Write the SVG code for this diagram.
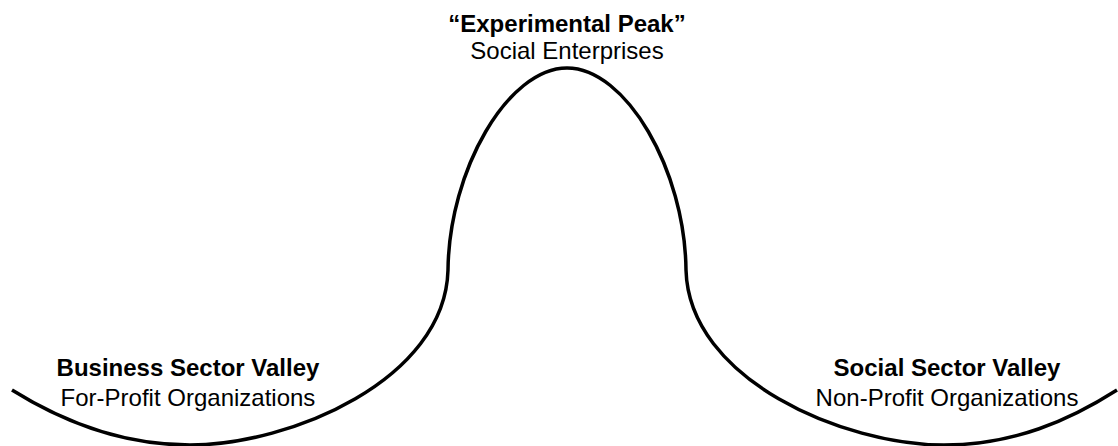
<svg xmlns="http://www.w3.org/2000/svg" width="1118" height="446" viewBox="0 0 1118 446">
<style>
.t{font-family:"Liberation Sans",Arial,sans-serif;font-size:24px;fill:#000;text-anchor:middle}
.b{font-weight:bold}
.curve{fill:none;stroke:#000;stroke-width:3.5;stroke-linecap:butt}
</style>
<rect width="1118" height="446" fill="#fff"/>
<g id="curve">
<path class="curve" d="M 12 390 C 60 420, 120 445, 190 445 C 290 445, 445 380, 448 270 C 449 170, 508 68, 567 68 C 626 68, 685 170, 686 270 C 689 380, 844 445, 944 445 C 1014 445, 1070 420, 1117 390"/>
</g>
<g id="peak">
<text class="t b" x="567" y="32">“Experimental Peak”</text>
<text class="t" x="567" y="59">Social Enterprises</text>
</g>
<g id="business-valley">
<text class="t b" x="188" y="376">Business Sector Valley</text>
<text class="t" x="188" y="406">For-Profit Organizations</text>
</g>
<g id="social-valley">
<text class="t b" x="947" y="376">Social Sector Valley</text>
<text class="t" x="947" y="406">Non-Profit Organizations</text>
</g>
</svg>
